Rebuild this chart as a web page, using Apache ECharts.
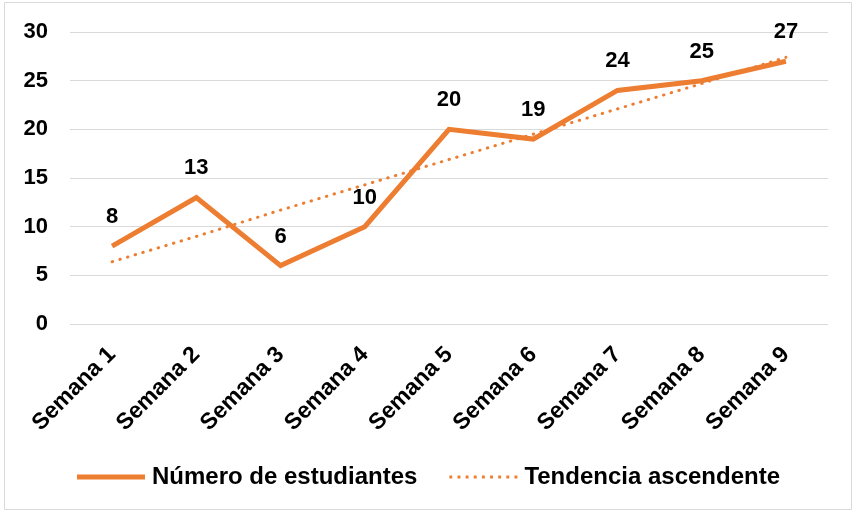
<!DOCTYPE html>
<html>
<head>
<meta charset="utf-8">
<script src="https://cdn.jsdelivr.net/npm/echarts@6/dist/echarts.min.js"></script>
<style>
  html, body { margin: 0; padding: 0; background: #fff; }
  #chart { width: 857px; height: 513px; }
</style>
</head>
<body>
<div id="chart"></div>
<script>
const weeks = ["Semana 1", "Semana 2", "Semana 3", "Semana 4", "Semana 5", "Semana 6", "Semana 7", "Semana 8", "Semana 9"];
const students = [8, 13, 6, 10, 20, 19, 24, 25, 27];
// trend line values
const trend = [6.4, 9.0, 11.7, 14.3, 16.9, 19.5, 22.1, 24.7, 27.4];
const yTicks = [0, 5, 10, 15, 20, 25, 30];

const orange = "#ED7D31";
const font = "Liberation Sans, Arial, sans-serif";

// dotted legend icon: 9 small dots in a row
let dots = "path://";
for (let i = 0; i < 9; i++) {
  const x = i * 8.4;
  dots += `M${x},0 L${x + 3},0 L${x + 3},3 L${x},3 Z `;
}

const chart = echarts.init(document.getElementById("chart"));
chart.setOption({
  animation: false,
  graphic: [{
    type: "rect",
    shape: { x: 4.5, y: 2.5, width: 847, height: 507 },
    style: { fill: "none", stroke: "#d9d9d9", lineWidth: 1 },
    silent: true
  }],
  grid: { left: 70, right: 29, top: 32, bottom: 189 },
  xAxis: {
    type: "category",
    data: weeks,
    boundaryGap: true,
    axisLine: { show: false },
    axisTick: { show: false },
    axisLabel: {
      rotate: 45,
      margin: 27,
      color: "#000",
      fontFamily: font,
      fontWeight: "bold",
      fontSize: 23,
      interval: 0
    }
  },
  yAxis: {
    type: "value",
    min: yTicks[0],
    max: yTicks[yTicks.length - 1],
    interval: 5,
    axisLine: { show: false },
    axisTick: { show: false },
    splitLine: { lineStyle: { color: "#d9d9d9", width: 1 } },
    axisLabel: {
      margin: 22,
      color: "#000",
      fontFamily: font,
      fontWeight: "bold",
      fontSize: 22
    }
  },
  legend: {
    top: 460,
    left: "center",
    itemWidth: 68,
    itemHeight: 14,
    itemGap: 32,
    textStyle: { color: "#000", fontFamily: font, fontWeight: "bold", fontSize: 24, padding: [0, 0, 0, 2] },
    data: [
      { name: "Número de estudiantes", icon: "path://M0,0 L68,0 L68,5 L0,5 Z" },
      { name: "Tendencia ascendente", icon: dots }
    ]
  },
  series: [
    {
      name: "Tendencia ascendente",
      type: "line",
      data: trend,
      symbol: "none",
      z: 3,
      lineStyle: { color: orange, width: 3, type: [0.5, 7.5], cap: "round" },
      itemStyle: { color: orange }
    },
    {
      name: "Número de estudiantes",
      type: "line",
      data: students,
      symbol: "circle",
      symbolSize: 0.1,
      z: 2,
      lineStyle: { color: orange, width: 5, join: "miter" },
      itemStyle: { color: orange },
      label: {
        show: true,
        position: "top",
        distance: 18,
        color: "#000",
        fontFamily: font,
        fontWeight: "bold",
        fontSize: 22
      }
    }
  ]
});
</script>
</body>
</html>
